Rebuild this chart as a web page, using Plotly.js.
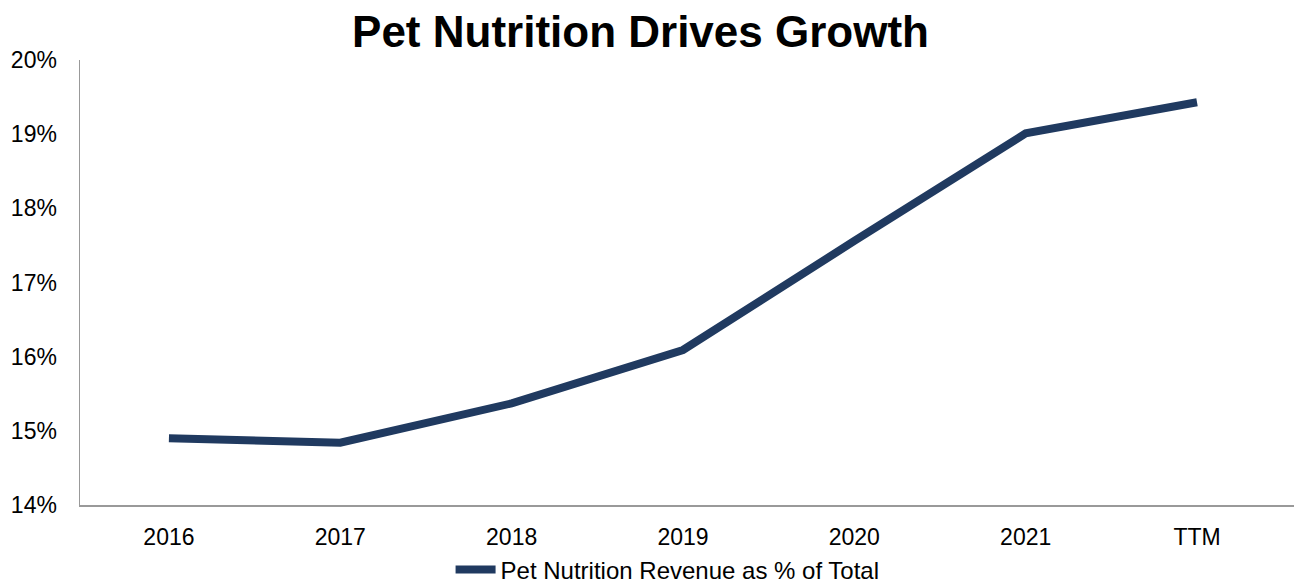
<!DOCTYPE html>
<html>
<head>
<meta charset="utf-8">
<script src="https://cdn.plot.ly/plotly-3.0.1.min.js"></script>
<style>html,body{margin:0;padding:0;background:#fff;}#chart{width:1294px;height:583px;}</style>
</head>
<body>
<div id="chart"></div>
<script>
const categories = ["2016", "2017", "2018", "2019", "2020", "2021", "TTM"];
const petNutritionShare = [14.90, 14.84, 15.37, 16.09, 17.56, 19.01, 19.43];
const seriesName = "Pet Nutrition Revenue as % of Total";
const chartTitle = "Pet Nutrition Drives Growth";

const trace = {
  x: categories,
  y: petNutritionShare,
  type: "scatter",
  mode: "lines",
  name: seriesName,
  line: {color: "#203a60", width: 8}
};

const layout = {
  width: 1294,
  height: 583,
  margin: {l: 80, r: 0, t: 60, b: 78, autoexpand: false},
  paper_bgcolor: "#ffffff",
  plot_bgcolor: "#ffffff",
  font: {family: "Liberation Sans, Arial, sans-serif", color: "#000000", size: 23},
  title: {
    text: "<b>" + chartTitle + "</b>",
    font: {size: 44, color: "#000000", family: "Liberation Sans, Arial, sans-serif"},
    xref: "container", x: 0.495, xanchor: "center",
    yref: "container", y: 0.945, yanchor: "middle"
  },
  xaxis: {
    type: "category",
    range: [-0.519, 6.566],
    showgrid: false,
    zeroline: false,
    showline: true,
    linecolor: "#999999",
    linewidth: 1.5,
    ticks: "",
    ticklabelstandoff: 11,
    tickfont: {size: 23},
    automargin: false
  },
  yaxis: {
    range: [14, 20],
    dtick: 1,
    ticksuffix: "%",
    showgrid: false,
    zeroline: false,
    showline: true,
    linecolor: "#999999",
    linewidth: 1.5,
    ticks: "",
    ticklabelstandoff: 17,
    tickfont: {size: 23},
    automargin: false
  },
  showlegend: true,
  legend: {
    orientation: "h",
    x: 0.484, xanchor: "center",
    yref: "container",
    y: 0.0223, yanchor: "middle",
    font: {size: 24},
    itemwidth: 40
  }
};

Plotly.newPlot("chart", [trace], layout, {displayModeBar: false, staticPlot: true});
</script>
</body>
</html>
